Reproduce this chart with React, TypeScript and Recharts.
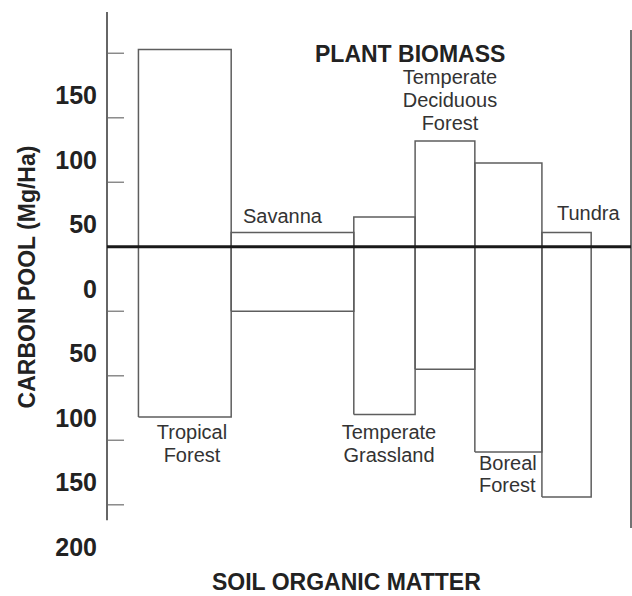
import { ComposedChart, Line, XAxis, YAxis, ReferenceLine } from "recharts";

// biomes, left to right
const biomes = [
  "Tropical Forest",
  "Savanna",
  "Temperate Grassland",
  "Temperate Deciduous Forest",
  "Boreal Forest",
  "Tundra",
];
// box edges on the hidden x axis (boxes touch, so n+1 edges)
const biomeEdges = [6, 23.7, 47.1, 58.8, 70.2, 83, 92.4];
// Mg/Ha above ground (plant biomass) and below (soil organic matter)
const plantBiomass = [153, 11, 23, 82, 65, 11];
const soilOrganicMatter = [-132, -50, -130, -95, -159, -194];

const yTicks = [150, 100, 50, 0, -50, -100, -150, -200];

const FONT = '"Liberation Sans", Arial, Helvetica, sans-serif';
const BOX = "#5e5e5e";

const boxes = biomes.map((name, i) => {
  const x0 = biomeEdges[i];
  const x1 = biomeEdges[i + 1];
  const top = plantBiomass[i];
  const bottom = soilOrganicMatter[i];
  return {
    name,
    data: [
      { x: x0, y: bottom },
      { x: x0, y: top },
      { x: x1, y: top },
      { x: x1, y: bottom },
      { x: x0, y: bottom },
    ],
  };
});

function CarbonTick({ x, y, payload }: { x?: number; y?: number; payload?: { value: number } }) {
  if (x === undefined || y === undefined || !payload) return null;
  const v = payload.value;
  return (
    <g>
      {v !== 0 && <line x1={x + 1} x2={x + 17} y1={y} y2={y} stroke="#8a8a8a" strokeWidth={1.5} />}
      {/* labels sit well below their tick marks in the original figure */}
      <text
        x={x - 10}
        y={y + 51}
        textAnchor="end"
        fontFamily={FONT}
        fontWeight="bold"
        fontSize={25}
        fill="#222"
      >
        {Math.abs(v)}
      </text>
    </g>
  );
}

const labelStyle = { fontFamily: FONT, fontSize: 20, fill: "#333" };
const titleStyle = { fontFamily: FONT, fontSize: 23, fontWeight: "bold" as const, fill: "#222" };

export default function App() {
  return (
    <div style={{ position: "absolute", left: 0, top: 0, background: "#fff" }}>
      <ComposedChart width={632} height={596} margin={{ top: 12, right: 1, bottom: 68, left: 0 }}>
        <XAxis type="number" dataKey="x" domain={[0, 100]} hide allowDataOverflow />
        <YAxis
          type="number"
          domain={[-218, 182]}
          ticks={yTicks}
          width={107}
          axisLine={false}
          tickLine={false}
          tickSize={0}
          tickMargin={0}
          interval={0}
          tick={<CarbonTick />}
          allowDataOverflow
        />
        {boxes.map((b) => (
          <Line
            key={b.name}
            data={b.data}
            dataKey="y"
            type="linear"
            stroke={BOX}
            strokeWidth={1.5}
            strokeLinejoin="miter"
            dot={false}
            activeDot={false}
            isAnimationActive={false}
          />
        ))}
        {/* left and right frame lines */}
        <ReferenceLine
          segment={[{ x: 0, y: 182 }, { x: 0, y: -212 }]}
          stroke="#333"
          strokeWidth={1.5}
          ifOverflow="visible"
        />
        <ReferenceLine
          segment={[{ x: 100, y: 168 }, { x: 100, y: -218 }]}
          stroke="#444"
          strokeWidth={1.5}
          ifOverflow="visible"
        />
        <ReferenceLine y={0} stroke="#1a1a1a" strokeWidth={3} />

        <text x={315} y={62} {...titleStyle}>PLANT BIOMASS</text>
        <text x={212} y={590} {...titleStyle}>SOIL ORGANIC MATTER</text>
        <text x={35} y={277} textAnchor="middle" transform="rotate(-90, 35, 277)" {...titleStyle}>
          CARBON POOL (Mg/Ha)
        </text>

        <text x={192} y={439} textAnchor="middle" {...labelStyle}>Tropical</text>
        <text x={192} y={462} textAnchor="middle" {...labelStyle}>Forest</text>
        <text x={243} y={223} {...labelStyle}>Savanna</text>
        <text x={389} y={439} textAnchor="middle" {...labelStyle}>Temperate</text>
        <text x={389} y={462} textAnchor="middle" {...labelStyle}>Grassland</text>
        <text x={450} y={84} textAnchor="middle" {...labelStyle}>Temperate</text>
        <text x={450} y={107} textAnchor="middle" {...labelStyle}>Deciduous</text>
        <text x={450} y={130} textAnchor="middle" {...labelStyle}>Forest</text>
        <text x={479} y={470} {...labelStyle}>Boreal</text>
        <text x={479} y={492} {...labelStyle}>Forest</text>
        <text x={557} y={220} {...labelStyle}>Tundra</text>
      </ComposedChart>
    </div>
  );
}
